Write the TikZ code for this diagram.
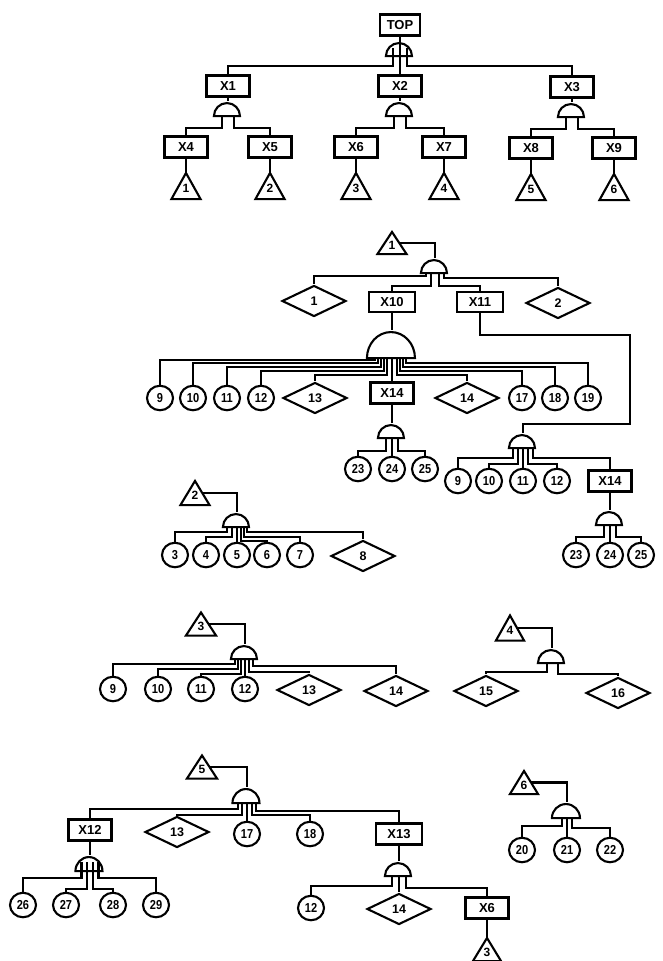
\documentclass[tikz,border=0pt]{standalone}
\usepackage{fontspec}
\setmainfont{Liberation Sans}
\newfontfamily\narrowfont{Liberation Sans}[FakeStretch=0.85]
\usetikzlibrary{shapes.geometric,calc}
\tikzset{
  box/.style={rectangle, draw, minimum width=43pt, minimum height=21pt, inner sep=0pt, font=\fontsize{13}{15}\selectfont\bfseries},
  ev/.style={ellipse, draw, minimum width=26pt, minimum height=24.5pt, inner sep=0pt, font=\narrowfont\fontsize{13}{15}\selectfont\bfseries},
  und/.style={diamond, draw, minimum width=64pt, minimum height=31pt, inner sep=0pt, font=\fontsize{12.5}{14}\selectfont\bfseries},
  xfer/.style 2 args={rectangle, inner sep=0pt, minimum width=#1, minimum height=#2, text height=13.5pt, text depth=0pt,
    font=\fontsize{12}{13}\selectfont\bfseries,
    append after command={\pgfextra{\draw (\tikzlastnode.south west) -- (\tikzlastnode.north) -- (\tikzlastnode.south east) -- cycle;}}},
  gate/.style 2 args={rectangle, inner sep=0pt, minimum width=2*#1, minimum height=#2,
    append after command={\pgfextra{\draw (\tikzlastnode.south west) arc[start angle=180,end angle=0,x radius=#1,y radius=#2] -- cycle;}}},
}
\begin{document}
\begin{tikzpicture}[x=1pt,y=1pt,line width=2.1pt]
\useasboundingbox (0,0) rectangle (662,-961);

% ---------------- Block A: TOP ----------------
\node[box, minimum width=40pt] (top) at (400,-25) {TOP};
\node[gate={13pt}{13pt}] (gtop) at (400,-48.5) {};
\node[box] (x1) at (228,-86) {X1};
\node[box] (x2) at (400,-86) {X2};
\node[box] (x3) at (572,-87) {X3};
\node[gate={13pt}{13pt}] (g1) at (228,-108.5) {};
\node[gate={13pt}{13pt}] (g2) at (400,-108.5) {};
\node[gate={13pt}{13pt}] (g3) at (572,-109.5) {};
\node[box] (x4) at (186,-147) {X4};
\node[box] (x5) at (270,-147) {X5};
\node[box] (x6) at (356,-147) {X6};
\node[box] (x7) at (444,-147) {X7};
\node[box] (x8) at (531,-148) {X8};
\node[box] (x9) at (614,-148) {X9};
\node[xfer={27pt}{24pt}] (ta1) at (186,-186) {1};
\node[xfer={27pt}{24pt}] (ta2) at (270,-186) {2};
\node[xfer={27pt}{24pt}] (ta3) at (356,-186) {3};
\node[xfer={27pt}{24pt}] (ta4) at (444,-186) {4};
\node[xfer={27pt}{24pt}] (ta5) at (531,-187) {5};
\node[xfer={27pt}{24pt}] (ta6) at (614,-187) {6};

\draw (top.south) -- (x2.north);
\draw ([shift={(-7pt,8pt)}]gtop.south) -- ++(0,-18) -| (x1.north);
\draw ([shift={(7pt,8pt)}]gtop.south) -- ++(0,-18) -| (x3.north);
\draw (x1.south) -- (g1.north);
\draw (x2.south) -- (g2.north);
\draw (x3.south) -- (g3.north);
\draw ([xshift=-6pt]g1.south) -- ++(0,-12) -| (x4.north);
\draw ([xshift=6pt]g1.south) -- ++(0,-12) -| (x5.north);
\draw ([xshift=-6pt]g2.south) -- ++(0,-12) -| (x6.north);
\draw ([xshift=6pt]g2.south) -- ++(0,-12) -| (x7.north);
\draw ([xshift=-6pt]g3.south) -- ++(0,-12) -| (x8.north);
\draw ([xshift=6pt]g3.south) -- ++(0,-12) -| (x9.north);
\draw (x4.south) -- (ta1.north);
\draw (x5.south) -- (ta2.north);
\draw (x6.south) -- (ta3.north);
\draw (x7.south) -- (ta4.north);
\draw (x8.south) -- (ta5.north);
\draw (x9.south) -- (ta6.north);

% ---------------- Block B: transfer 1 ----------------
\node[xfer={27pt}{20pt}] (tb1) at (392,-243) {1};
\node[gate={13pt}{13pt}] (gb) at (435,-265.5) {};
\node[und] (d1) at (314,-301) {1};
\node[box, minimum width=46pt, minimum height=20pt] (x10) at (392,-302) {X10};
\node[box, minimum width=46pt, minimum height=20pt] (x11) at (480,-302) {X11};
\node[und] (d2) at (558,-303) {2};
\draw ($(tb1.north)!.5!(tb1.south east)$) -| (gb.north);
\draw ([xshift=-9pt]gb.south) -- ++(0,-3) -| (d1.north);
\draw ([xshift=-4pt]gb.south) -- ++(0,-13) -| (x10.north);
\draw ([xshift=4pt]gb.south) -- ++(0,-13) -| (x11.north);
\draw ([xshift=9pt]gb.south) -- ++(0,-5) -| (d2.north);

\node[gate={24pt}{26pt}] (gx10) at (392,-344) {};
\draw (x10.south) -- (gx10.north);
\node[ev] (c9a) at (160,-398) {9};
\node[ev] (c10a) at (193,-398) {10};
\node[ev] (c11a) at (227,-398) {11};
\node[ev] (c12a) at (261,-398) {12};
\node[und] (d13a) at (315,-398) {13};
\node[box] (x14a) at (392,-393) {X14};
\node[und] (d14a) at (467,-398) {14};
\node[ev] (c17a) at (522,-398) {17};
\node[ev] (c18a) at (555,-398) {18};
\node[ev] (c19a) at (588,-398) {19};
\draw ([xshift=-17pt]gx10.south) -- ++(0,-2) -| (c9a.north);
\draw ([xshift=-14pt]gx10.south) -- ++(0,-5) -| (c10a.north);
\draw ([xshift=-11pt]gx10.south) -- ++(0,-9) -| (c11a.north);
\draw ([xshift=-8pt]gx10.south) -- ++(0,-13) -| (c12a.north);
\draw ([xshift=-5pt]gx10.south) -- ++(0,-17) -| (d13a.north);
\draw (gx10.south) -- (x14a.north);
\draw ([xshift=5pt]gx10.south) -- ++(0,-17) -| (d14a.north);
\draw ([xshift=8pt]gx10.south) -- ++(0,-13) -| (c17a.north);
\draw ([xshift=11pt]gx10.south) -- ++(0,-9) -| (c18a.north);
\draw ([xshift=14pt]gx10.south) -- ++(0,-5) -| (c19a.north);

\node[gate={13pt}{13pt}] (gx14a) at (392,-430.5) {};
\draw (x14a.south) -- (gx14a.north);
\node[ev] (c23a) at (358,-469) {23};
\node[ev] (c24a) at (392,-469) {24};
\node[ev] (c25a) at (425,-469) {25};
\draw ([xshift=-6pt]gx14a.south) -- ++(0,-13) -| (c23a.north);
\draw (gx14a.south) -- (c24a.north);
\draw ([xshift=6pt]gx14a.south) -- ++(0,-13) -| (c25a.north);

\coordinate (k1) at (630,-335);
\coordinate (k2) at (630,-424);
\node[gate={13pt}{13pt}] (gx11) at (523,-440.5) {};
\draw (x11.south) |- (k1) -- (k2) -| (gx11.north);
\node[ev] (c9b) at (458,-481) {9};
\node[ev] (c10b) at (489,-481) {10};
\node[ev] (c11b) at (523,-481) {11};
\node[ev] (c12b) at (557,-481) {12};
\node[box] (x14b) at (610,-481) {X14};
\draw ([xshift=-10pt]gx11.south) -- ++(0,-10) -| (c9b.north);
\draw ([xshift=-5pt]gx11.south) -- ++(0,-16) -| (c10b.north);
\draw (gx11.south) -- (c11b.north);
\draw ([xshift=5pt]gx11.south) -- ++(0,-16) -| (c12b.north);
\draw ([xshift=10pt]gx11.south) -- ++(0,-10) -| (x14b.north);

\node[gate={13pt}{13pt}] (gx14b) at (610,-517.5) {};
\draw (x14b.south) -- (gx14b.north);
\node[ev] (c23b) at (576,-555) {23};
\node[ev] (c24b) at (610,-555) {24};
\node[ev] (c25b) at (641,-555) {25};
\draw ([xshift=-6pt]gx14b.south) -- ++(0,-12) -| (c23b.north);
\draw (gx14b.south) -- (c24b.north);
\draw ([xshift=6pt]gx14b.south) -- ++(0,-12) -| (c25b.north);

% ---------------- Block C: transfer 2 ----------------
\node[xfer={27pt}{22pt}] (tc2) at (195,-493) {2};
\node[gate={13pt}{13pt}] (gc) at (237,-519.5) {};
\draw ($(tc2.north)!.5!(tc2.south east)$) -| (gc.north);
\node[ev] (c3) at (175,-555) {3};
\node[ev] (c4) at (206,-555) {4};
\node[ev] (c5) at (237,-555) {5};
\node[ev] (c6) at (267,-555) {6};
\node[ev] (c7) at (300,-555) {7};
\node[und] (d8) at (363,-556) {8};
\draw ([xshift=-10pt]gc.south) -- ++(0,-5) -| (c3.north);
\draw ([xshift=-5pt]gc.south) -- ++(0,-10) -| (c4.north);
\draw (gc.south) -- (c5.north);
\draw ([xshift=4pt]gc.south) -- ++(0,-14) -| (c6.north);
\draw ([xshift=7pt]gc.south) -- ++(0,-10) -| (c7.north);
\draw ([xshift=10pt]gc.south) -- ++(0,-5) -| (d8.north);

% ---------------- Block D: transfer 3 ----------------
\node[xfer={28pt}{21pt}] (td3) at (201,-624) {3};
\node[gate={13pt}{13pt}] (gd) at (245,-651.5) {};
\draw ($(td3.north)!.5!(td3.south east)$) -| (gd.north);
\node[ev] (c9c) at (113,-689) {9};
\node[ev] (c10c) at (158,-689) {10};
\node[ev] (c11c) at (201,-689) {11};
\node[ev] (c12c) at (245,-689) {12};
\node[und] (d13c) at (309,-690) {13};
\node[und] (d14c) at (396,-691) {14};
\draw ([xshift=-10pt]gd.south) -- ++(0,-5) -| (c9c.north);
\draw ([xshift=-7pt]gd.south) -- ++(0,-10) -| (c10c.north);
\draw ([xshift=-4pt]gd.south) -- ++(0,-15) -| (c11c.north);
\draw (gd.south) -- (c12c.north);
\draw ([xshift=4pt]gd.south) -- ++(0,-13) -| (d13c.north);
\draw ([xshift=8pt]gd.south) -- ++(0,-7) -| (d14c.north);

% ---------------- Block E: transfer 4 ----------------
\node[xfer={26pt}{23pt}] (te4) at (510,-628) {4};
\node[gate={13pt}{13pt}] (ge) at (552,-655.5) {};
\draw ($(te4.north)!.5!(te4.south east)$) -| (ge.north);
\node[und] (d15) at (486,-691) {15};
\node[und] (d16) at (618,-693) {16};
\draw ([xshift=-5pt]ge.south) -- ++(0,-9) -| (d15.north);
\draw ([xshift=6pt]ge.south) -- ++(0,-11) -| (d16.north);

% ---------------- Block F: transfer 5 ----------------
\node[xfer={28pt}{21pt}] (tf5) at (202,-767) {5};
\node[gate={13.5pt}{14pt}] (gf) at (247,-795) {};
\draw ($(tf5.north)!.5!(tf5.south east)$) -| (gf.north);
\node[box] (x12) at (90,-830) {X12};
\node[und] (d13f) at (177,-832) {13};
\node[ev] (c17) at (247,-834) {17};
\node[ev] (c18) at (310,-834) {18};
\node[box, minimum width=46pt] (x13) at (399,-834) {X13};
\draw ([xshift=-9pt]gf.south) -- ++(0,-6) -| (x12.north);
\draw ([xshift=-5pt]gf.south) -- ++(0,-12) -| (d13f.north);
\draw (gf.south) -- (c17.north);
\draw ([xshift=5pt]gf.south) -- ++(0,-12) -| (c18.north);
\draw ([xshift=9pt]gf.south) -- ++(0,-8) -| (x13.north);

\node[gate={13.5pt}{14pt}] (gx12) at (90,-863) {};
\draw (x12.south) -- (gx12.north);
\node[ev] (c26) at (23,-905) {26};
\node[ev] (c27) at (66,-905) {27};
\node[ev] (c28) at (113,-905) {28};
\node[ev] (c29) at (156,-905) {29};
\draw ([shift={(-8.5pt,9pt)}]gx12.south) -- ++(0,-16) -| (c26.north);
\draw ([shift={(-3pt,9pt)}]gx12.south) -- ++(0,-27) -| (c27.north);
\draw ([shift={(3pt,9pt)}]gx12.south) -- ++(0,-27) -| (c28.north);
\draw ([shift={(8.5pt,9pt)}]gx12.south) -- ++(0,-16) -| (c29.north);

\node[gate={13pt}{13pt}] (gx13) at (399,-868.5) {};
\draw (x13.south) -- (gx13.north);
\node[ev] (c12f) at (311,-908) {12};
\node[und] (d14f) at (399,-909) {14};
\node[box] (x6f) at (487,-908) {X6};
\node[xfer={26pt}{21pt}] (tf3) at (487,-949.5) {3};
\draw ([xshift=-7pt]gx13.south) -- ++(0,-10) -| (c12f.north);
\draw (gx13.south) -- (d14f.north);
\draw ([xshift=7pt]gx13.south) -- ++(0,-12) -| (x6f.north);
\draw (x6f.south) -- (tf3.north);

% ---------------- Block G: transfer 6 ----------------
\node[xfer={26pt}{21pt}] (tg6) at (524,-782.5) {6};
\node[gate={14pt}{14pt}] (gg) at (567,-810) {};
\draw ($(tg6.north)!.5!(tg6.south east)$) -| (gg.north);
\node[ev] (c20) at (522,-850) {20};
\node[ev] (c21) at (567,-850) {21};
\node[ev] (c22) at (610,-850) {22};
\draw ([xshift=-5pt]gg.south) -- ++(0,-8) -| (c20.north);
\draw (gg.south) -- (c21.north);
\draw ([xshift=5pt]gg.south) -- ++(0,-10) -| (c22.north);
\end{tikzpicture}
\end{document}
